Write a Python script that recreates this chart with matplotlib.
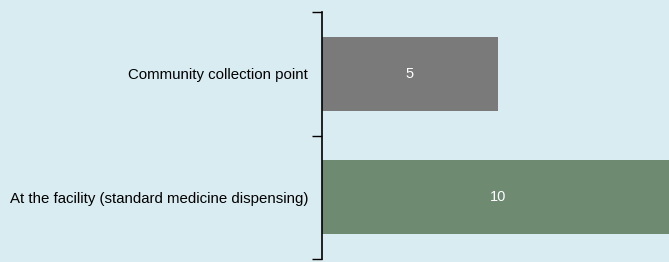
import matplotlib.pyplot as plt

# categories bottom -> top
categories = ['At the facility (standard medicine dispensing)', 'Community collection point']
values = [10, 5]
colors = ['#6e8b72', '#7a7a7a']

bg = '#d9ecf2'
plt.rcParams['font.family'] = ['Liberation Sans', 'DejaVu Sans']

fig = plt.figure(figsize=(6.69, 2.62), dpi=100, facecolor=bg)
ax = fig.add_axes([322 / 669, 3 / 262, 1 - 322 / 669, 247 / 262])
ax.set_facecolor(bg)

pos = list(range(len(categories)))
bars = ax.barh(pos, values, height=0.6, color=colors)
for b, v in zip(bars, values):
    ax.text(v / 2, b.get_y() + b.get_height() / 2, str(v),
            ha='center', va='center', color='white', fontsize=10.5)

ax.set_xlim(0, 9.86)
ax.set_ylim(-0.5, len(categories) - 0.5)
ax.set_xticks([])

# ticks at category boundaries, labels at centres
ax.set_yticks([-0.5, 0.5, 1.5])
ax.set_yticklabels([])
ax.tick_params(axis='y', length=7, width=1, color='black')
ax.set_yticks(pos, minor=True)
ax.set_yticklabels(categories, minor=True, fontsize=10.8)
ax.tick_params(axis='y', which='minor', length=0, pad=10)

for s in ['top', 'right', 'bottom']:
    ax.spines[s].set_visible(False)
ax.spines['left'].set_linewidth(1.2)

fig.savefig('out.png', dpi=100, facecolor=bg)
